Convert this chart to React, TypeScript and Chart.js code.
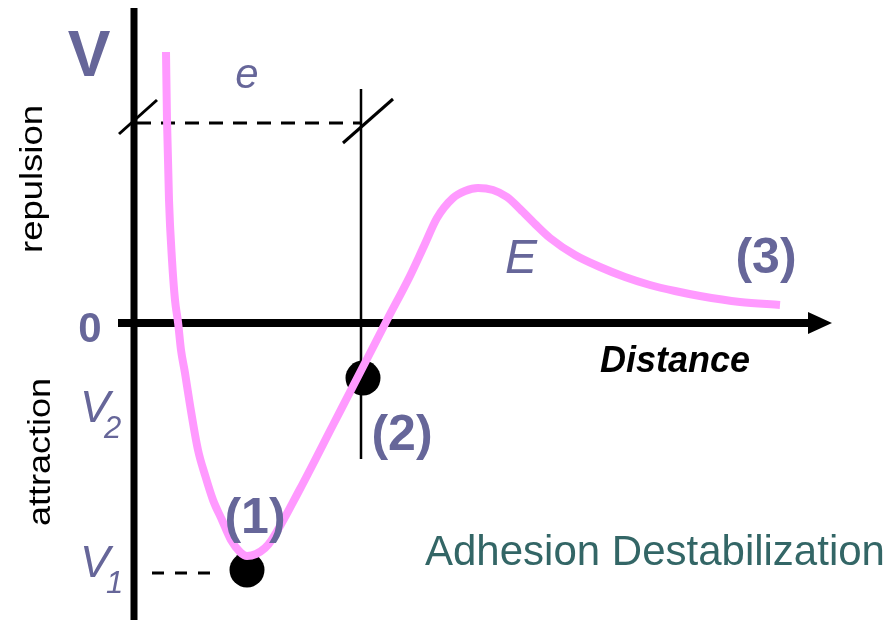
import React, { useEffect, useRef } from "react";
import { Chart, registerables } from "chart.js";

Chart.register(...registerables);

// Potential energy curve V(distance) — schematic units (origin at the axes crossing)
const distance = [
  0.33, 0.34, 0.36, 0.39, 0.42, 0.45, 0.48, 0.52, 0.57, 0.65, 0.72, 0.8, 0.89, 0.98, 1.07, 1.14,
  1.23, 1.32, 1.38, 1.67, 2.0, 2.34, 2.54, 2.77, 2.91, 3.04, 3.2, 3.32, 3.45, 3.6, 3.74, 3.87,
  4.02, 4.17, 4.42, 4.67, 4.92, 5.17, 5.42, 5.67, 6.07, 6.47,
];
const potential = [
  2.71, 2.03, 1.23, 0.63, 0.23, 0.01, -0.27, -0.5, -0.82, -1.27, -1.52, -1.77, -1.97, -2.17, -2.29,
  -2.33, -2.31, -2.25, -2.18, -1.66, -1.02, -0.36, 0.03, 0.47, 0.77, 1.05, 1.25, 1.32, 1.35, 1.33,
  1.26, 1.14, 0.99, 0.85, 0.68, 0.56, 0.46, 0.38, 0.32, 0.27, 0.21, 0.18,
];

// Equilibrium points (2) and (1)
const pointDistance = [2.3, 1.14];
const pointPotential = [-0.55, -2.47];

// Reference levels
const eLevel = 2.0; // range "e"
const eEnd = 2.27;
const secondaryDistance = 2.28;
const secondaryTop = 2.34;
const secondaryBottom = -1.36;
const v1Level = -2.5;

const X_MIN = -1.33;
const X_MAX = 7.59;
const Y_MIN = -2.97;
const Y_MAX = 3.23;

const PURPLE = "#666699";
const PINK = "#ff99ff";
const TEAL = "#336666";
const FONT = "'Liberation Sans', Arial, sans-serif";

type Lbl = {
  text: string;
  x: number;
  y: number;
  font: string;
  color: string;
  align: CanvasTextAlign;
  rotate?: boolean;
  length?: number;
};

const labels: Lbl[] = [
  { text: "V", x: -0.44, y: 2.47, font: `bold 64px ${FONT}`, color: PURPLE, align: "center" },
  { text: "e", x: 1.14, y: 2.35, font: `italic 42px ${FONT}`, color: PURPLE, align: "center" },
  { text: "repulsion", x: -0.91, y: 1.44, font: `32px ${FONT}`, color: "#000", align: "center", rotate: true, length: 148 },
  { text: "attraction", x: -0.83, y: -1.29, font: `32px ${FONT}`, color: "#000", align: "center", rotate: true, length: 148 },
  { text: "0", x: -0.43, y: -0.19, font: `bold 42px ${FONT}`, color: PURPLE, align: "center" },
  { text: "V", x: -0.53, y: -0.99, font: `italic 45px ${FONT}`, color: PURPLE, align: "left" },
  { text: "2", x: -0.29, y: -1.15, font: `italic 31px ${FONT}`, color: PURPLE, align: "left" },
  { text: "V", x: -0.53, y: -2.54, font: `italic 45px ${FONT}`, color: PURPLE, align: "left" },
  { text: "1", x: -0.27, y: -2.7, font: `italic 31px ${FONT}`, color: PURPLE, align: "left" },
  { text: "(1)", x: 1.22, y: -2.1, font: `bold 50px ${FONT}`, color: PURPLE, align: "center" },
  { text: "(2)", x: 2.69, y: -1.27, font: `bold 50px ${FONT}`, color: PURPLE, align: "center" },
  { text: "(3)", x: 6.33, y: 0.5, font: `bold 50px ${FONT}`, color: PURPLE, align: "center" },
  { text: "E", x: 3.72, y: 0.5, font: `italic 48px ${FONT}`, color: PURPLE, align: "left" },
  { text: "Distance", x: 4.67, y: -0.49, font: `italic bold 36px ${FONT}`, color: "#000", align: "left" },
  { text: "Adhesion Destabilization", x: 2.92, y: -2.42, font: `42px ${FONT}`, color: TEAL, align: "left" },
];

const guidesPlugin = {
  id: "guides",
  beforeDatasetsDraw(chart: any) {
    const { ctx } = chart;
    const sx = chart.scales.x;
    const sy = chart.scales.y;
    const px = (v: number) => sx.getPixelForValue(v);
    const py = (v: number) => sy.getPixelForValue(v);
    ctx.save();
    ctx.strokeStyle = "#000";
    ctx.fillStyle = "#000";
    ctx.lineCap = "butt";

    // vertical axis
    ctx.lineWidth = 7;
    ctx.beginPath();
    ctx.moveTo(px(0.01), py(3.15));
    ctx.lineTo(px(0.01), py(Y_MIN));
    ctx.stroke();

    // horizontal axis with arrow
    ctx.lineWidth = 8;
    ctx.beginPath();
    ctx.moveTo(px(-0.15), py(0));
    ctx.lineTo(px(6.78), py(0));
    ctx.stroke();
    const tipX = px(6.99);
    const baseX = px(6.75);
    const y0 = py(0);
    ctx.beginPath();
    ctx.moveTo(baseX, y0 - 11);
    ctx.lineTo(tipX, y0);
    ctx.lineTo(baseX, y0 + 11);
    ctx.closePath();
    ctx.fill();

    // dashed range line "e"
    ctx.lineWidth = 3;
    ctx.setLineDash([14, 10]);
    ctx.beginPath();
    ctx.moveTo(px(0.04), py(eLevel));
    ctx.lineTo(px(eEnd), py(eLevel));
    ctx.stroke();
    // V1 dashed
    ctx.setLineDash([12, 11]);
    ctx.beginPath();
    ctx.moveTo(px(0.19), py(v1Level));
    ctx.lineTo(px(0.79), py(v1Level));
    ctx.stroke();
    ctx.setLineDash([]);

    // thin vertical line at secondary distance
    ctx.lineWidth = 2.5;
    ctx.beginPath();
    ctx.moveTo(px(secondaryDistance), py(secondaryTop));
    ctx.lineTo(px(secondaryDistance), py(secondaryBottom));
    ctx.stroke();

    // slash marks
    ctx.lineWidth = 3;
    const slash = (cx: number, cy: number, dx: number, dy: number) => {
      ctx.beginPath();
      ctx.moveTo(cx - dx, cy + dy);
      ctx.lineTo(cx + dx, cy - dy);
      ctx.stroke();
    };
    slash(px(0.05), py(eLevel) - 6, 19, 17);
    slash(px(2.35), py(eLevel) - 2, 25, 22);
    ctx.restore();
  },
  afterDraw(chart: any) {
    const { ctx } = chart;
    const sx = chart.scales.x;
    const sy = chart.scales.y;
    ctx.save();
    for (const l of labels) {
      const x = sx.getPixelForValue(l.x);
      const y = sy.getPixelForValue(l.y);
      ctx.font = l.font;
      ctx.fillStyle = l.color;
      ctx.textBaseline = "alphabetic";
      ctx.textAlign = l.align;
      if (l.rotate) {
        ctx.save();
        ctx.translate(x, y);
        ctx.rotate(-Math.PI / 2);
        const w = ctx.measureText(l.text).width;
        const s = l.length ? l.length / w : 1;
        ctx.scale(s, 1);
        ctx.fillText(l.text, 0, 0);
        ctx.restore();
      } else {
        ctx.fillText(l.text, x, y);
      }
    }
    ctx.restore();
  },
};

export default function App() {
  const ref = useRef<HTMLCanvasElement | null>(null);
  useEffect(() => {
    if (!ref.current) return;
    const chart = new Chart(ref.current, {
      type: "scatter",
      data: {
        datasets: [
          {
            type: "line",
            label: "V",
            data: distance.map((d, i) => ({ x: d, y: potential[i] })),
            borderColor: PINK,
            borderWidth: 8,
            pointRadius: 0,
            cubicInterpolationMode: "monotone",
            fill: false,
          } as any,
          {
            label: "points",
            data: pointDistance.map((d, i) => ({ x: d, y: pointPotential[i] })),
            backgroundColor: "#000",
            borderColor: "#000",
            borderWidth: 0,
            pointRadius: 17.5,
          },
        ],
      },
      options: {
        animation: false,
        responsive: false,
        devicePixelRatio: 1,
        layout: { padding: 0, autoPadding: false },
        events: [],
        scales: {
          x: { type: "linear", min: X_MIN, max: X_MAX, display: false },
          y: { type: "linear", min: Y_MIN, max: Y_MAX, display: false },
        },
        plugins: { legend: { display: false }, tooltip: { enabled: false } },
      },
      plugins: [guidesPlugin],
    });
    return () => chart.destroy();
  }, []);
  return (
    <div style={{ position: "absolute", left: 0, top: 0, width: 892, height: 620, background: "#fff" }}>
      <canvas ref={ref} width={892} height={620} style={{ display: "block" }} />
    </div>
  );
}
